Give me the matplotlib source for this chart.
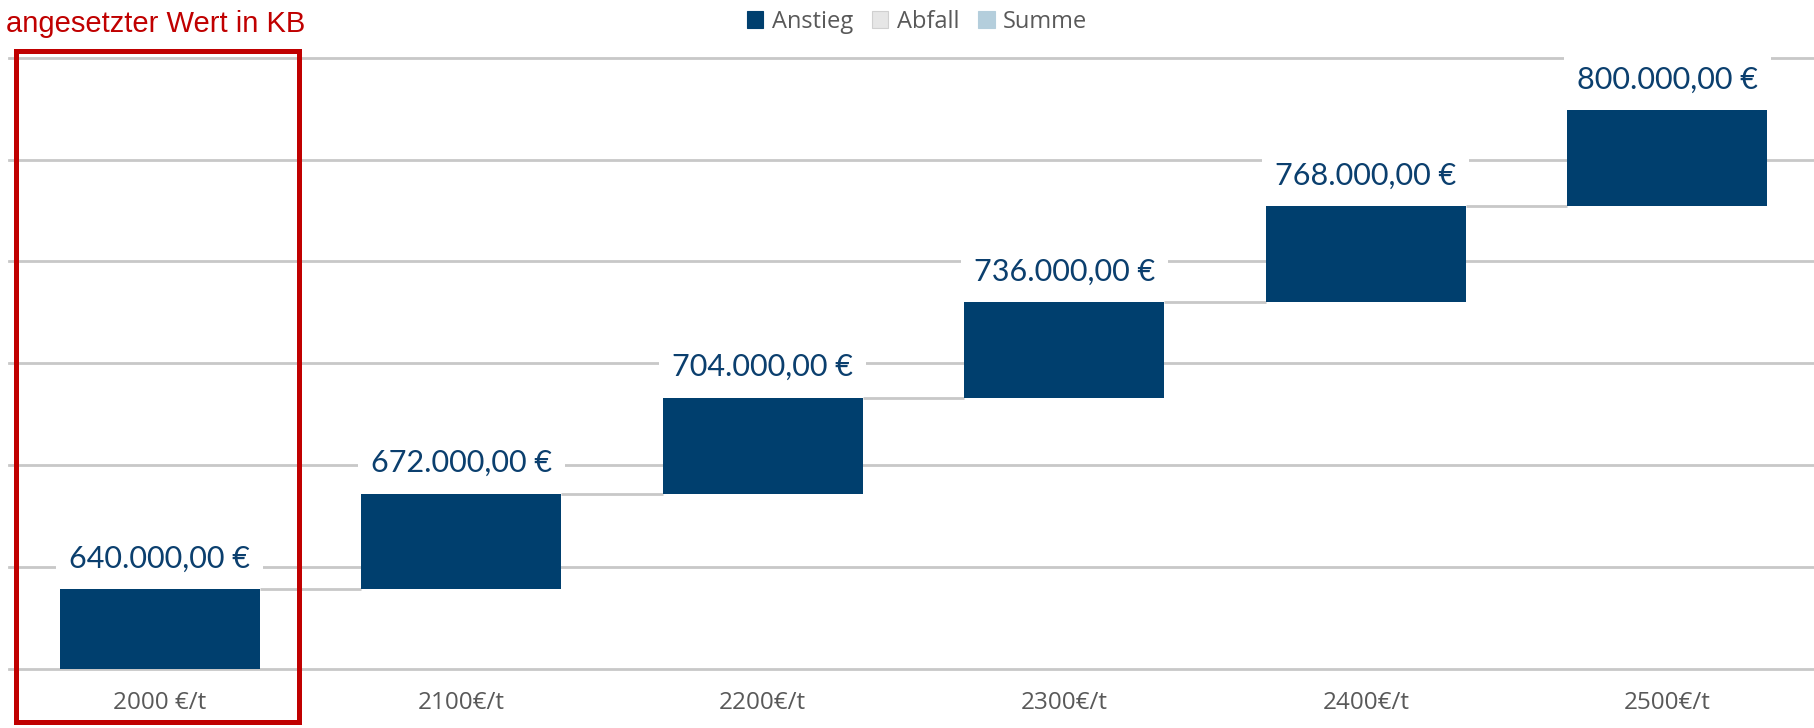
import matplotlib
matplotlib.use("Agg")
import matplotlib.pyplot as plt
from matplotlib.patches import Patch, Rectangle
import numpy as np

# ---- data ----
categories = ["2000 €/t", "2100€/t", "2200€/t", "2300€/t", "2400€/t", "2500€/t"]
totals = [640000, 672000, 704000, 736000, 768000, 800000]
legend_labels = ["Anstieg", "Abfall", "Summe"]
annotation_text = "angesetzter Wert in KB"

# axis range (value units)
y_min = 613500
y_step = 34000
n_grid = 7

# ---- style ----
W, H = 1814, 728
bar_color = "#003F6E"
label_color = "#0B3F6E"
grid_color = "#C8C8C8"
tick_color = "#595959"
red = "#C00000"
legend_colors = [bar_color, "#E6E6E6", "#B4CEDC"]

fig = plt.figure(figsize=(W / 100, H / 100), dpi=100)
fig.patch.set_facecolor("white")

ax_left, ax_right = 9, 1818
ax_top, ax_bottom = 57.8, 668.7
ax = fig.add_axes([ax_left / W, (H - ax_bottom) / H,
                   (ax_right - ax_left) / W, (ax_bottom - ax_top) / H])

x = np.arange(len(categories))
bottoms = [y_min] + totals[:-1]
heights = [t - b for t, b in zip(totals, bottoms)]
bw = 0.664

ax.bar(x, heights, bottom=bottoms, width=bw, color=bar_color, zorder=4)

# connectors
for i in range(len(totals) - 1):
    ax.hlines(totals[i], i + bw / 2, i + 1 - bw / 2, color=grid_color, lw=2, zorder=2)

# data labels
def fmt(v):
    s = f"{v:,.2f}"
    s = s.replace(",", "X").replace(".", ",").replace("X", ".")
    return s + " €"

for i, t in enumerate(totals):
    ax.annotate(fmt(t), (i, t), xytext=(0, 22), textcoords="offset points",
                ha="center", va="center", fontsize=22, color=label_color,
                family=["Lato", "DejaVu Sans"], zorder=3,
                bbox=dict(boxstyle="square,pad=0.42", fc="white", ec="none"))

ax.set_xlim(-0.5, len(categories) - 0.5)
ax.set_ylim(y_min, y_min + y_step * (n_grid - 1))
ax.set_yticks([y_min + k * y_step for k in range(n_grid)])
ax.yaxis.grid(True, color=grid_color, lw=2, zorder=1)
for gl in ax.get_ygridlines():
    gl.set_clip_on(False)
ax.set_axisbelow(True)
ax.tick_params(axis="y", length=0, labelleft=False)
ax.set_xticks(x)
ax.set_xticklabels(categories, fontsize=17.5, color=tick_color,
                   family=["Open Sans", "DejaVu Sans"])
ax.tick_params(axis="x", length=0, pad=16)
for s in ax.spines.values():
    s.set_visible(False)
ax.patch.set_alpha(0)

# legend
handles = [Patch(facecolor=c, edgecolor=("#D0D0D0" if c == "#E6E6E6" else c), lw=0.8)
           for c in legend_colors]
leg = fig.legend(handles, legend_labels, loc="center",
                 bbox_to_anchor=(917 / W, 1 - 22 / H), ncol=3, frameon=False,
                 prop={"family": ["Open Sans", "DejaVu Sans"], "size": 17},
                 handlelength=0.7, handleheight=0.7, handletextpad=0.35,
                 columnspacing=0.8, borderaxespad=0)
for t in leg.get_texts():
    t.set_color(tick_color)

# red highlight box and annotation
rx0, rx1, ry0, ry1 = 15.5, 298.5, 50.5, 721.5
fig.add_artist(Rectangle((rx0 / W, (H - ry1) / H), (rx1 - rx0) / W, (ry1 - ry0) / H,
                         transform=fig.transFigure, fill=False, ec=red, lw=3.6, zorder=10))
fig.text(6 / W, 1 - 32 / H, annotation_text, fontsize=21, color=red,
         family=["Liberation Sans", "DejaVu Sans"], ha="left", va="baseline")

fig.savefig("out.png", dpi=100, facecolor="white")
